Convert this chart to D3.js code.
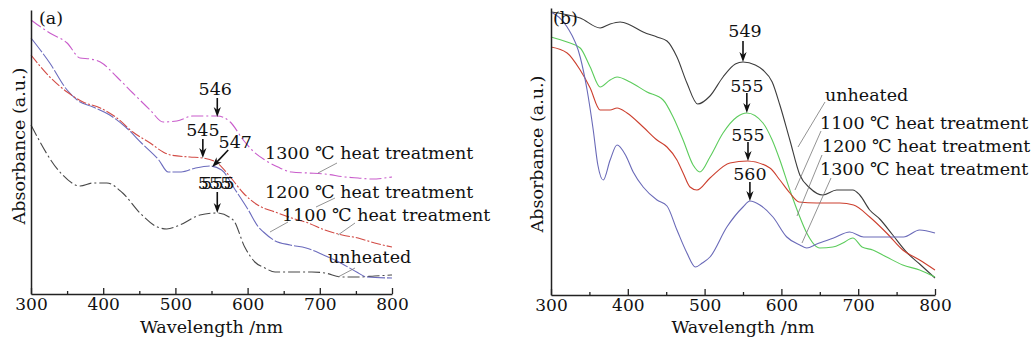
<!DOCTYPE html>
<html><head><meta charset="utf-8">
<script src="https://cdn.jsdelivr.net/npm/d3@7"></script>
<style>
html,body{margin:0;padding:0;background:#fff;}
svg text{font-family:"DejaVu Serif",serif;fill:#111;}
</style></head>
<body><svg id="c" width="1032" height="344"></svg>
<script>
// ---------- data ----------
const wavelengthTicks = [300, 400, 500, 600, 700, 800];
const minorTicks = [350, 450, 550, 650, 750];
const seriesNames = ["unheated", "1100 ℃ heat treatment", "1200 ℃ heat treatment", "1300 ℃ heat treatment"];

// panel (a): [wavelength nm, absorbance a.u.]
const aUnheated = [[300,169],[340,122],[368,108],[386,111],[405,111],[427,101],[451,81],[475,67],[488,65],[506,69],[534,79],[558,81],[580,74],[596,47],[610,32],[624,26],[638,22],[661,22],[689,22],[707,21],[731,17],[753,17],[776,18],[800,19]];
const a1100 = [[300,256],[326,231],[350,204],[364,194],[386,187],[409,179],[431,167],[453,151],[477,134],[490,122],[508,122],[528,126],[548,128],[564,124],[583,104],[601,84],[615,67],[622,62],[636,54],[659,49],[681,46],[705,39],[729,31],[751,22],[765,17],[800,16]];
const a1200 = [[300,239],[326,217],[350,202],[372,192],[396,186],[419,176],[441,162],[465,151],[483,142],[493,139],[520,137],[538,136],[558,131],[576,117],[594,101],[614,89],[638,82],[661,76],[684,71],[707,64],[731,59],[753,56],[776,51],[800,47]];
const a1300 = [[300,274],[326,261],[350,251],[368,236],[382,235],[396,232],[419,217],[441,201],[465,184],[483,172],[502,173],[524,178],[558,178],[576,172],[594,154],[606,144],[624,134],[642,127],[661,122],[684,121],[707,120],[735,117],[753,116],[772,115],[800,117]];

// panel (b)
const bUnheated = [[300,283],[316,281],[338,277],[364,267],[377,271],[390,273],[403,270],[420,263],[438,258],[451,254],[464,238],[477,212],[491,191],[507,199],[524,218],[540,231],[550,233],[566,230],[576,225],[588,213],[598,190],[611,155],[624,120],[637,107],[654,100],[672,105],[693,105],[702,100],[715,85],[728,76],[745,60],[764,42],[780,31],[800,17]];
const b1100 = [[300,258],[321,253],[338,247],[351,228],[364,208],[377,215],[386,218],[403,213],[425,203],[446,195],[459,178],[472,155],[485,130],[494,123],[507,138],[524,162],[542,178],[555,182],[576,172],[588,155],[598,135],[611,105],[624,78],[633,62],[650,47],[667,48],[680,52],[693,57],[705,48],[719,45],[737,38],[758,30],[780,25],[800,18]];
const b1200 = [[300,248],[321,242],[338,225],[351,207],[364,185],[377,185],[386,187],[399,182],[420,168],[438,155],[451,148],[464,135],[472,122],[481,108],[490,105],[507,117],[533,132],[556,134],[585,127],[598,115],[611,102],[623,93],[646,92],[676,92],[694,90],[715,78],[737,62],[758,45],[780,35],[800,25]];
const b1300 = [[300,283],[321,268],[338,238],[347,205],[355,165],[361,130],[368,115],[377,135],[386,150],[397,140],[407,123],[420,108],[438,95],[451,89],[464,65],[477,42],[488,28],[497,32],[507,38],[529,68],[550,88],[559,94],[572,90],[589,78],[607,58],[624,50],[633,47],[646,51],[668,57],[689,63],[707,58],[733,58],[759,58],[780,65],[800,62]];

// peak annotations: label(s), arrow-tip wavelength, arrow-tip absorbance
const aPeakLabels = [["546"], ["545"], ["547"], ["555", "555"]];
const aPeakNm = [558, 538, 551, 558];
const aPeakVal = [177, 136, 127, 81];
const bPeakLabels = [["549"], ["555"], ["555"], ["560"]];
const bPeakNm = [550, 555, 556.5, 559];
const bPeakVal = [233, 182, 134, 94];

// ---------- layout ----------
const svg = d3.select("#c");
const FS = 17.5, TFS = 17;
const panels = [
  {x0:31, x1:392, yb:294, yt:10, ymax:284, label:"(a)", labelX:39, labelY:24, ylabX:25, ylabY:146,
   series:[aUnheated,a1100,a1200,a1300],
   colors:["#484848","#6b6bbd","#d24b45","#c95ccb"],
   dashes:["12,3,2,3","18,2","10,2,2,2","12,3,2,3"],
   peaks:{labels:aPeakLabels, nm:aPeakNm, val:aPeakVal,
     arrow:[[0,-19],[0,-19],[16,-17],[0,-21]],
     lab:[[-2,-22],[0,-22],[23,-19],[-1,-24]]},
   legend:[{t:3,x:265,y:159},{t:2,x:265,y:198},{t:1,x:282,y:221},{t:0,x:328,y:263}],
   leaders:[[337,163,318,173],[335,198,316,207],[288,222,270,232],[355,223,338,235],[355,268,338,277]]},
  {x0:551, x1:935, yb:295, yt:8, ymax:287, label:"(b)", labelX:553, labelY:24, ylabX:543, ylabY:154,
   series:[bUnheated,b1100,b1200,b1300],
   colors:["#3c3c3c","#5ccc5c","#cc3f2e","#6a6ab8"],
   dashes:[null,null,null,null],
   peaks:{labels:bPeakLabels, nm:bPeakNm, val:bPeakVal,
     arrow:[[0,-21],[0,-20],[0,-19],[0,-19]],
     lab:[[2,-25],[0,-21],[0,-20],[0,-21]]},
   legend:[{t:0,x:825,y:101},{t:1,x:820,y:129},{t:2,x:822,y:152},{t:3,x:820,y:175}],
   leaders:[[825,102,798,147],[821,131,795,190],[822,155,797,216],[831,178,802,243]]}
];

panels.forEach(p => {
  const x = d3.scaleLinear().domain([300, 800]).range([p.x0, p.x1]);
  const y = d3.scaleLinear().domain([0, p.ymax]).range([p.yb, p.yt]);
  const g = svg.append("g");

  const line = d3.line().x(d => x(d[0])).y(d => y(d[1])).curve(d3.curveMonotoneX);
  p.series.forEach((s, i) => {
    g.append("path").datum(s).attr("d", line)
      .attr("fill", "none").attr("stroke", p.colors[i]).attr("stroke-width", 1.1)
      .attr("stroke-dasharray", p.dashes[i]);
  });

  const ax = g.append("g").attr("transform", `translate(0,${p.yb})`)
    .call(d3.axisBottom(x).tickValues(wavelengthTicks).tickSizeInner(-6).tickSizeOuter(0).tickPadding(4));
  ax.select(".domain").attr("stroke", "#222").attr("stroke-width", 1.5);
  ax.selectAll(".tick line").attr("stroke", "#222").attr("stroke-width", 1.3);
  ax.selectAll(".tick text").attr("font-family", "DejaVu Serif").attr("font-size", TFS).attr("fill", "#111");
  const mx = g.append("g").attr("transform", `translate(0,${p.yb})`)
    .call(d3.axisBottom(x).tickValues(minorTicks).tickSizeInner(-3).tickSizeOuter(0).tickFormat(""));
  mx.select(".domain").remove();
  mx.selectAll(".tick line").attr("stroke", "#222").attr("stroke-width", 1.3);

  const ay = g.append("g").attr("transform", `translate(${p.x0},0)`)
    .call(d3.axisLeft(y).tickValues([]).tickSizeOuter(0));
  ay.select(".domain").attr("stroke", "#222").attr("stroke-width", 1.5);

  g.append("text").attr("x", (p.x0 + p.x1) / 2).attr("y", 333).attr("text-anchor", "middle")
    .attr("font-size", FS).text("Wavelength /nm");
  g.append("text").attr("transform", `translate(${p.ylabX},${p.ylabY}) rotate(-90)`)
    .attr("text-anchor", "middle").attr("font-size", FS).text("Absorbance (a.u.)");
  g.append("text").attr("x", p.labelX).attr("y", p.labelY).attr("font-size", FS).text(p.label);

  p.leaders.forEach(l => {
    g.append("line").attr("x1", l[0]).attr("y1", l[1]).attr("x2", l[2]).attr("y2", l[3])
      .attr("stroke", "#777").attr("stroke-width", 0.8);
  });
  p.legend.forEach(l => {
    g.append("text").attr("x", l.x).attr("y", l.y).attr("font-size", FS).text(seriesNames[l.t]);
  });

  const pk = p.peaks;
  pk.labels.forEach((labs, i) => {
    const tx = x(pk.nm[i]), ty = y(pk.val[i]);
    const sx = tx + pk.arrow[i][0], sy = ty + pk.arrow[i][1];
    const ang = Math.atan2(ty - sy, tx - sx);
    const hl = 10, hw = 3.6;
    const bx = tx - Math.cos(ang) * hl, by = ty - Math.sin(ang) * hl;
    const nx = tx - Math.cos(ang) * (hl - 3), ny = ty - Math.sin(ang) * (hl - 3);
    const px = -Math.sin(ang) * hw, py = Math.cos(ang) * hw;
    g.append("line").attr("x1", sx).attr("y1", sy).attr("x2", nx).attr("y2", ny)
      .attr("stroke", "#111").attr("stroke-width", 1.6);
    g.append("path").attr("d", `M${tx},${ty}L${bx + px},${by + py}L${nx},${ny}L${bx - px},${by - py}Z`)
      .attr("fill", "#111");
    // overlapping duplicate labels (as printed in the original) drawn in one text element
    const t = g.append("text").attr("x", tx + pk.lab[i][0]).attr("y", ty + pk.lab[i][1])
      .attr("text-anchor", "middle").attr("font-size", FS);
    labs.forEach((s, j) => {
      const ts = t.append("tspan").text(s);
      if (j > 0) ts.attr("dx", -30);
    });
  });
});
</script></body></html>
